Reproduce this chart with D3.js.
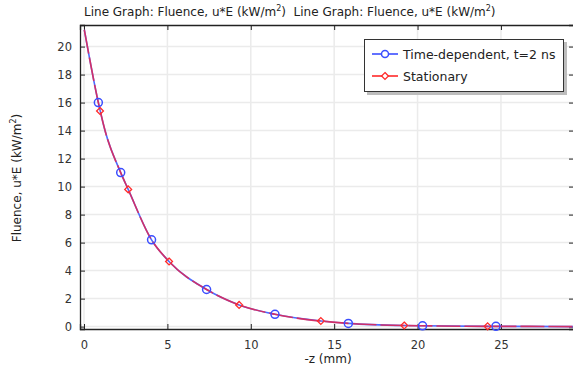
<!DOCTYPE html>
<html><head><meta charset="utf-8">
<script src="https://cdn.jsdelivr.net/npm/d3@7"></script>
<style>body{margin:0;background:#fff;}svg{display:block;font-family:"DejaVu Sans",sans-serif;}</style>
</head><body>
<div id="chart"></div>
<script>
// Curve (both series follow the same profile)
const lineX = [0.02, 0.86, 1.26, 2.2, 2.65, 4.05, 5.1, 7.35, 9.3, 11.45, 14.2, 15.85, 19.2, 20.3, 24.2, 24.7, 29.5];
const lineY = [21.2, 16.0, 14.0, 11.0, 9.8, 6.2, 4.65, 2.65, 1.55, 0.88, 0.4, 0.23, 0.08, 0.06, 0.02, 0.02, 0.0];
// Markers
const timeDepX = [0.86, 2.2, 4.05, 7.35, 11.45, 15.85, 20.3, 24.7];
const timeDepY = [16.0, 11.0, 6.2, 2.65, 0.88, 0.23, 0.06, 0.02];
const statX = [0.96, 2.65, 5.1, 9.3, 14.2, 19.2, 24.2];
const statY = [15.4, 9.8, 4.65, 1.55, 0.4, 0.08, 0.02];
const xTicks = [0, 5, 10, 15, 20, 25];
const yTicks = [0, 2, 4, 6, 8, 10, 12, 14, 16, 18, 20];
const seriesNames = ["Time-dependent, t=2 ns", "Stationary"];

const W = 573, H = 369;
const L = 80, T = 25, R = 574, B = 329;
const svg = d3.select("#chart").append("svg").attr("width", W).attr("height", H);

const x = d3.scaleLinear().domain([-0.24, 29.38]).range([L, R]);
const y = d3.scaleLinear().domain([-0.17, 21.54]).range([B, T]);

// gridlines
const g = svg.append("g");
g.selectAll(".gx").data(xTicks).enter().append("line")
  .attr("x1", d => x(d)).attr("x2", d => x(d)).attr("y1", T).attr("y2", B)
  .attr("stroke", "#ebebeb").attr("stroke-width", 1.5);
g.selectAll(".gy").data(yTicks).enter().append("line")
  .attr("x1", L).attr("x2", R).attr("y1", d => y(d)).attr("y2", d => y(d))
  .attr("stroke", "#ebebeb").attr("stroke-width", 1.5);

// axes
const ax = svg.append("g").attr("transform", `translate(0,${B})`)
  .call(d3.axisBottom(x).tickValues(xTicks).tickSize(-5).tickPadding(12).tickFormat(d3.format("d")));
const axT = svg.append("g").attr("transform", `translate(0,${T})`)
  .call(d3.axisTop(x).tickValues(xTicks).tickSize(-5).tickFormat(""));
const ay = svg.append("g").attr("transform", `translate(${L},0)`)
  .call(d3.axisLeft(y).tickValues(yTicks).tickSize(-5).tickPadding(8).tickFormat(d3.format("d")));
const ayR = svg.append("g").attr("transform", `translate(${R},0)`)
  .call(d3.axisRight(y).tickValues(yTicks).tickSize(-5).tickFormat(""));
[ax, axT, ay, ayR].forEach(a => {
  a.select(".domain").attr("stroke", "#222").attr("stroke-width", 1.3);
  a.selectAll(".tick line").attr("stroke", "#222");
  a.selectAll(".tick text").attr("fill", "#333").style("font-size", "11.5px").style("font-family", "DejaVu Sans");
});

// lines
const line = d3.line().x((d, i) => x(lineX[i])).y((d, i) => y(lineY[i])).curve(d3.curveMonotoneX);
svg.append("path").datum(lineY).attr("d", line).attr("fill", "none")
  .attr("stroke", "#4d6bff").attr("stroke-width", 1.6);
svg.append("path").datum(lineY).attr("d", line).attr("fill", "none")
  .attr("stroke", "#e8244e").attr("stroke-width", 1.6).attr("stroke-opacity", 0.85)
  .attr("stroke-dasharray", "24,4");

// markers
svg.selectAll(".tm").data(timeDepX).enter().append("circle")
  .attr("cx", d => x(d)).attr("cy", (d, i) => y(timeDepY[i])).attr("r", 4)
  .attr("fill", "none").attr("stroke", "#3a4dff").attr("stroke-width", 1.5);
const diamond = d3.symbol().type(d3.symbolDiamond2).size(30);
svg.selectAll(".sm").data(statX).enter().append("path")
  .attr("d", diamond).attr("transform", (d, i) => `translate(${x(d)},${y(statY[i])})`)
  .attr("fill", "none").attr("stroke", "#ff2a2a").attr("stroke-width", 1.3);

// legend
const lg = svg.append("g");
lg.append("rect").attr("x", 367).attr("y", 42).attr("width", 200).attr("height", 53).attr("fill", "#bdbdbd");
lg.append("rect").attr("x", 364.5).attr("y", 39.5).attr("width", 199).attr("height", 52)
  .attr("fill", "#fff").attr("stroke", "#333").attr("stroke-width", 1);
const colors = ["#3a4dff", "#ff2a2a"];
seriesNames.forEach((name, i) => {
  const yy = 54 + i * 22;
  lg.append("line").attr("x1", 372).attr("x2", 398).attr("y1", yy).attr("y2", yy)
    .attr("stroke", colors[i]).attr("stroke-width", 1.6);
  if (i === 0) {
    lg.append("circle").attr("cx", 385).attr("cy", yy).attr("r", 3.5).attr("fill", "#fff")
      .attr("stroke", colors[i]).attr("stroke-width", 1.5);
  } else {
    lg.append("path").attr("d", diamond).attr("transform", `translate(385,${yy})`).attr("fill", "#fff")
      .attr("stroke", colors[i]).attr("stroke-width", 1.3);
  }
  lg.append("text").attr("x", 403).attr("y", yy + 4.5).text(name)
    .style("font-size", "12.5px").attr("fill", "#222");
});

// title
const tt = svg.append("text").attr("x", 84).attr("y", 16).style("font-size", "12px")
  .style("white-space", "pre").attr("xml:space", "preserve").attr("fill", "#222");
tt.append("tspan").text("Line Graph: Fluence, u*E (kW/m");
tt.append("tspan").attr("dy", -5).style("font-size", "8px").text("2");
tt.append("tspan").attr("dy", 5).text(")  Line Graph: Fluence, u*E (kW/m");
tt.append("tspan").attr("dy", -5).style("font-size", "8px").text("2");
tt.append("tspan").attr("dy", 5).text(")");

// axis labels
svg.append("text").attr("x", 328).attr("y", 363).attr("text-anchor", "middle")
  .style("font-size", "12px").attr("fill", "#222").text("-z (mm)");
const yl = svg.append("text").attr("transform", "translate(21,178) rotate(-90)").attr("text-anchor", "middle")
  .style("font-size", "12px").attr("fill", "#222");
yl.append("tspan").text("Fluence, u*E (kW/m");
yl.append("tspan").attr("dy", -5).style("font-size", "8px").text("2");
yl.append("tspan").attr("dy", 5).text(")");
</script>
</body></html>
